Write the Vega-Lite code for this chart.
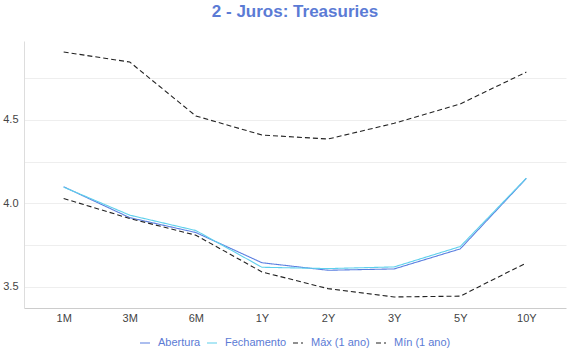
{
  "$schema": "https://vega.github.io/schema/vega-lite/v6.json",
  "width": 542,
  "height": 267,
  "padding": {"left": 2, "right": 5, "top": 3, "bottom": 5},
  "background": "white",
  "title": {
    "text": "2 - Juros: Treasuries",
    "color": "#5b7bd5",
    "font": "Liberation Sans",
    "fontSize": 17,
    "fontWeight": "bold",
    "anchor": "middle",
    "offset": 20
  },
  "config": {
    "view": {"stroke": null},
    "font": "Liberation Sans",
    "legend": {"layout": {"bottom": {"anchor": "middle"}}}
  },
  "data": {
    "values": [
      {"tenor": "1M", "serie": "Abertura", "valor": 4.10},
      {"tenor": "3M", "serie": "Abertura", "valor": 3.915},
      {"tenor": "6M", "serie": "Abertura", "valor": 3.826},
      {"tenor": "1Y", "serie": "Abertura", "valor": 3.645},
      {"tenor": "2Y", "serie": "Abertura", "valor": 3.60},
      {"tenor": "3Y", "serie": "Abertura", "valor": 3.608},
      {"tenor": "5Y", "serie": "Abertura", "valor": 3.728},
      {"tenor": "10Y", "serie": "Abertura", "valor": 4.15},
      {"tenor": "1M", "serie": "Fechamento", "valor": 4.098},
      {"tenor": "3M", "serie": "Fechamento", "valor": 3.93},
      {"tenor": "6M", "serie": "Fechamento", "valor": 3.838},
      {"tenor": "1Y", "serie": "Fechamento", "valor": 3.618},
      {"tenor": "2Y", "serie": "Fechamento", "valor": 3.61},
      {"tenor": "3Y", "serie": "Fechamento", "valor": 3.62},
      {"tenor": "5Y", "serie": "Fechamento", "valor": 3.742},
      {"tenor": "10Y", "serie": "Fechamento", "valor": 4.152},
      {"tenor": "1M", "serie": "Máx (1 ano)", "valor": 4.907},
      {"tenor": "3M", "serie": "Máx (1 ano)", "valor": 4.847},
      {"tenor": "6M", "serie": "Máx (1 ano)", "valor": 4.524},
      {"tenor": "1Y", "serie": "Máx (1 ano)", "valor": 4.41},
      {"tenor": "2Y", "serie": "Máx (1 ano)", "valor": 4.386},
      {"tenor": "3Y", "serie": "Máx (1 ano)", "valor": 4.48},
      {"tenor": "5Y", "serie": "Máx (1 ano)", "valor": 4.596},
      {"tenor": "10Y", "serie": "Máx (1 ano)", "valor": 4.787},
      {"tenor": "1M", "serie": "Mín (1 ano)", "valor": 4.03},
      {"tenor": "3M", "serie": "Mín (1 ano)", "valor": 3.91},
      {"tenor": "6M", "serie": "Mín (1 ano)", "valor": 3.81},
      {"tenor": "1Y", "serie": "Mín (1 ano)", "valor": 3.59},
      {"tenor": "2Y", "serie": "Mín (1 ano)", "valor": 3.49},
      {"tenor": "3Y", "serie": "Mín (1 ano)", "valor": 3.44},
      {"tenor": "5Y", "serie": "Mín (1 ano)", "valor": 3.445},
      {"tenor": "10Y", "serie": "Mín (1 ano)", "valor": 3.644}
    ]
  },
  "mark": {"type": "line", "strokeWidth": 1.1},
  "encoding": {
    "x": {
      "field": "tenor",
      "type": "ordinal",
      "sort": ["1M", "3M", "6M", "1Y", "2Y", "3Y", "5Y", "10Y"],
      "scale": {"type": "point", "padding": 0.6},
      "axis": {
        "title": null,
        "labelAngle": 0,
        "ticks": false,
        "labelPadding": 4,
        "labelColor": "#444",
        "labelFontSize": 11,
        "domainColor": "#cccccc",
        "grid": false
      }
    },
    "y": {
      "field": "valor",
      "type": "quantitative",
      "scale": {"domain": [3.374, 4.973], "zero": false, "nice": false},
      "axis": {
        "title": null,
        "values": [3.5, 3.75, 4.0, 4.25, 4.5, 4.75],
        "labelExpr": "abs(datum.value*2 - round(datum.value*2)) < 0.001 ? format(datum.value, '.1f') : ''",
        "ticks": false,
        "labelPadding": 6,
        "labelColor": "#444",
        "labelFontSize": 11,
        "domainColor": "#dddddd",
        "gridColor": "#eeeeee"
      }
    },
    "color": {
      "field": "serie",
      "type": "nominal",
      "scale": {
        "domain": ["Abertura", "Fechamento", "Máx (1 ano)", "Mín (1 ano)"],
        "range": ["#5b7fe0", "#5fd0ec", "#222222", "#222222"]
      },
      "legend": {
        "title": null,
        "orient": "bottom",
        "direction": "horizontal",
        "symbolType": "stroke",
        "symbolSize": 100,
        "symbolStrokeWidth": 1.2,
        "labelColor": "#5b7bd5",
        "labelFontSize": 11,
        "labelOffset": 7,
        "columnPadding": 3,
        "offset": 14
      }
    },
    "strokeDash": {
      "field": "serie",
      "type": "nominal",
      "scale": {
        "domain": ["Abertura", "Fechamento", "Máx (1 ano)", "Mín (1 ano)"],
        "range": [[1, 0], [1, 0], [5, 3], [5, 3]]
      },
      "legend": {
        "title": null,
        "orient": "bottom",
        "direction": "horizontal",
        "symbolType": "stroke",
        "symbolSize": 100,
        "symbolStrokeWidth": 1.2,
        "labelColor": "#5b7bd5",
        "labelFontSize": 11,
        "labelOffset": 7,
        "columnPadding": 3,
        "offset": 14
      }
    }
  }
}
